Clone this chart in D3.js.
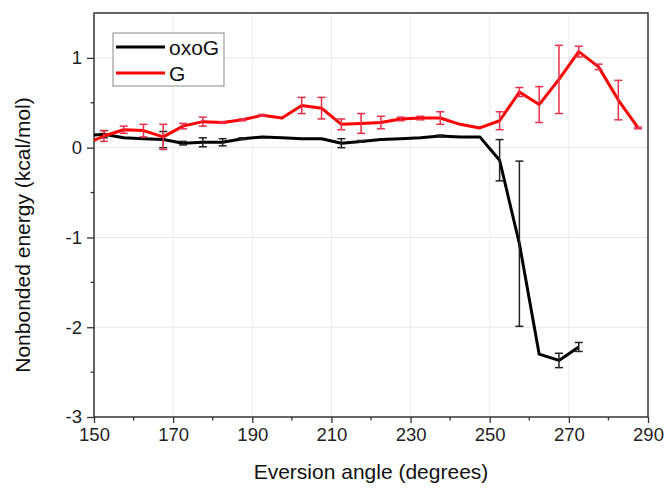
<!DOCTYPE html>
<html>
<head>
<meta charset="utf-8">
<script src="https://cdn.jsdelivr.net/npm/d3@7"></script>
<style>
  html, body { margin: 0; padding: 0; background: #fff; }
  svg { display: block; font-family: "Liberation Sans", Arial, sans-serif; }
</style>
</head>
<body>
<svg id="chart" width="668" height="493"></svg>
<script>
// ---- data ----
const angles = [150, 152.5, 157.5, 162.5, 167.5, 172.5, 177.5, 182.5, 187.5, 192.5, 197.5, 202.5, 207.5, 212.5, 217.5, 222.5, 227.5, 232.5, 237.5, 242.5, 247.5, 252.5, 257.5, 262.5, 267.5, 272.5, 277.5, 282.5, 287.5];
const oxoG    = [0.14, 0.15, 0.11, 0.10, 0.09, 0.05, 0.06, 0.06, 0.10, 0.12, 0.11, 0.10, 0.10, 0.05, 0.07, 0.09, 0.10, 0.11, 0.13, 0.12, 0.12, -0.14, -1.07, -2.30, -2.37, -2.22, null, null, null];
const oxoGErr = [0, 0.04, 0, 0, 0.09, 0.02, 0.05, 0.04, 0.01, 0, 0, 0, 0, 0.05, 0.01, 0, 0, 0, 0.01, 0, 0, 0.23, 0.92, 0, 0.08, 0.05, null, null, null];
const gVals   = [0.08, 0.13, 0.20, 0.19, 0.12, 0.24, 0.29, 0.28, 0.31, 0.36, 0.33, 0.47, 0.44, 0.26, 0.27, 0.28, 0.32, 0.33, 0.33, 0.26, 0.22, 0.30, 0.62, 0.48, 0.76, 1.07, 0.90, 0.53, 0.22];
const gErr    = [0, 0.06, 0.04, 0.07, 0.14, 0.03, 0.05, 0.01, 0.01, 0.01, 0, 0.09, 0.12, 0.06, 0.11, 0.07, 0.02, 0.02, 0.07, 0, 0, 0.10, 0.05, 0.20, 0.38, 0.06, 0.03, 0.22, 0.01];
const xTicks = [150, 170, 190, 210, 230, 250, 270, 290];
const yTicks = [-3, -2, -1, 0, 1];
const seriesNames = ["oxoG", "G"];
const seriesColors = ["#000000", "#ff0000"];
const errColors = ["#222222", "#e8304a"];

// ---- layout ----
const svg = d3.select("#chart");
const L = 94, R = 648, T = 13, B = 417;
const x = d3.scaleLinear().domain([150, 290]).range([L, R]);
const y = d3.scaleLinear().domain([-3, 1.5]).range([B, T]);

// gridlines
const grid = svg.append("g");
grid.selectAll("line.gx").data(xTicks.slice(1, -1)).join("line")
  .attr("x1", d => x(d)).attr("x2", d => x(d)).attr("y1", T).attr("y2", B)
  .attr("stroke", "#ececec").attr("stroke-width", 1);
grid.selectAll("line.gy").data(yTicks.slice(1)).join("line")
  .attr("x1", L).attr("x2", R).attr("y1", d => y(d)).attr("y2", d => y(d))
  .attr("stroke", "#e6e6e6").attr("stroke-width", 1);

// axes
const xMinor = d3.range(160, 290, 20);
const yMinor = [-2.5, -1.5, -0.5, 0.5];
const xAxis = d3.axisBottom(x).tickValues(xTicks).tickFormat(d3.format("d")).tickSize(6).tickPadding(5);
const yAxis = d3.axisLeft(y).tickValues(yTicks).tickFormat(d3.format("d")).tickSize(7).tickPadding(5);

const gx = svg.append("g").attr("transform", `translate(0,${B})`).call(xAxis);
const gy = svg.append("g").attr("transform", `translate(${L},0)`).call(yAxis);
[gx, gy].forEach(g => {
  g.select(".domain").remove();
  g.selectAll(".tick line").attr("stroke", "#333").attr("stroke-width", 1.3);
  g.selectAll(".tick text").attr("fill", "#222").style("font-size", "18.5px").style("font-family", "'Liberation Sans', Arial, sans-serif");
});
gy.selectAll(".tick text").text(d => d < 0 ? "-" + Math.abs(d) : d);
svg.append("g").selectAll("line").data(xMinor).join("line")
  .attr("x1", d => x(d)).attr("x2", d => x(d)).attr("y1", B).attr("y2", B + 3.5)
  .attr("stroke", "#333").attr("stroke-width", 1.3);
svg.append("g").selectAll("line").data(yMinor).join("line")
  .attr("x1", L - 3.5).attr("x2", L).attr("y1", d => y(d)).attr("y2", d => y(d))
  .attr("stroke", "#333").attr("stroke-width", 1.3);

// frame
svg.append("rect").attr("x", L).attr("y", T).attr("width", R - L).attr("height", B - T)
  .attr("fill", "none").attr("stroke", "#333").attr("stroke-width", 1.5);

// series
svg.append("clipPath").attr("id", "clip").append("rect")
  .attr("x", L).attr("y", T).attr("width", R - L).attr("height", B - T);
const plot = svg.append("g").attr("clip-path", "url(#clip)");
const series = [
  { vals: oxoG, err: oxoGErr },
  { vals: gVals, err: gErr }
];
series.forEach((s, i) => {
  const pts = angles.map((a, k) => ({ a, v: s.vals[k], e: s.err[k] })).filter(p => p.v !== null);
  const line = d3.line().x(p => x(p.a)).y(p => y(p.v));
  plot.append("path").datum(pts).attr("d", line)
    .attr("fill", "none").attr("stroke", seriesColors[i]).attr("stroke-width", 3)
    .attr("stroke-linejoin", "round");
  const eb = plot.append("g").attr("stroke", errColors[i]).attr("stroke-width", 1.5);
  const ep = pts.filter(p => p.e > 0);
  eb.selectAll("line.v").data(ep).join("line")
    .attr("x1", p => x(p.a)).attr("x2", p => x(p.a))
    .attr("y1", p => y(p.v + p.e)).attr("y2", p => y(p.v - p.e));
  eb.selectAll("line.t").data(ep).join("line")
    .attr("x1", p => x(p.a) - 4).attr("x2", p => x(p.a) + 4)
    .attr("y1", p => y(p.v + p.e)).attr("y2", p => y(p.v + p.e));
  eb.selectAll("line.b").data(ep).join("line")
    .attr("x1", p => x(p.a) - 4).attr("x2", p => x(p.a) + 4)
    .attr("y1", p => y(p.v - p.e)).attr("y2", p => y(p.v - p.e));
});

// legend
const lg = svg.append("g");
lg.append("rect").attr("x", 113).attr("y", 33).attr("width", 111).attr("height", 53)
  .attr("fill", "#fff").attr("stroke", "#888").attr("stroke-width", 1);
seriesNames.forEach((n, i) => {
  const yy = 47 + i * 26;
  lg.append("line").attr("x1", 116).attr("x2", 165).attr("y1", yy).attr("y2", yy)
    .attr("stroke", seriesColors[i]).attr("stroke-width", 3);
  lg.append("text").attr("x", 169).attr("y", yy + 7.5).text(n)
    .style("font-size", "21px").attr("fill", "#111");
});

// axis titles
svg.append("text").attr("x", 371).attr("y", 479).attr("text-anchor", "middle")
  .style("font-size", "21px").attr("fill", "#111").text("Eversion angle (degrees)");
svg.append("text").attr("transform", `translate(30,${(T + B) / 2 + 20}) rotate(-90)`)
  .attr("text-anchor", "middle").style("font-size", "21px").attr("fill", "#111")
  .text("Nonbonded energy (kcal/mol)");
</script>
</body>
</html>
